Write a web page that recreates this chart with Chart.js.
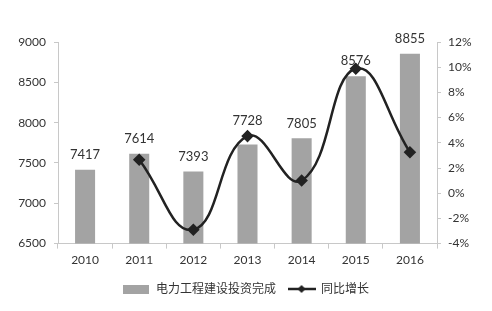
<!DOCTYPE html>
<html>
<head>
<meta charset="utf-8">
<script src="https://cdn.jsdelivr.net/npm/chart.js@4.4.1/dist/chart.umd.min.js"></script>
<style>
  html, body { margin: 0; padding: 0; background: #fff; }
  #wrap { width: 492px; height: 311px; position: relative; }
</style>
</head>
<body>
<div id="wrap"><canvas id="chart"></canvas></div>
<script>
const years = ['2010', '2011', '2012', '2013', '2014', '2015', '2016'];
const investment = [7417, 7614, 7393, 7728, 7805, 8576, 8855];
const growth = [null, 2.66, -2.90, 4.53, 1.00, 9.88, 3.25];
const leftTicks = [6500, 7000, 7500, 8000, 8500, 9000];
const rightTicks = [-4, -2, 0, 2, 4, 6, 8, 10, 12];

const barName = '电力工程建设投资完成';
const lineName = '同比增长';
const FONT = 'Lato, "Noto Sans CJK SC", sans-serif';

// legend symbols drawn on small canvases
function makeSwatch(w, h, draw) {
    const c = document.createElement('canvas');
    c.width = w; c.height = h;
    draw(c.getContext('2d'));
    return c;
}
const barSwatch = makeSwatch(26, 9, g => { g.fillStyle = '#a3a3a3'; g.fillRect(0, 0, 26, 9); });
const lineSwatch = makeSwatch(28, 10, g => {
    g.strokeStyle = '#222'; g.lineWidth = 2.5;
    g.beginPath(); g.moveTo(0, 5); g.lineTo(28, 5); g.stroke();
    g.fillStyle = '#222';
    g.beginPath(); g.moveTo(14, 1); g.lineTo(18, 5); g.lineTo(14, 9); g.lineTo(10, 5); g.closePath(); g.fill();
});

// value labels above bars (pushed above the marker when it sits just over the bar)
const barLabels = {
    id: 'barLabels',
    afterDatasetsDraw(chart) {
        const ctx = chart.ctx;
        const bars = chart.getDatasetMeta(1).data;
        const pts = chart.getDatasetMeta(0).data;
        ctx.save();
        ctx.font = '13px ' + FONT;
        ctx.fillStyle = '#333';
        ctx.textAlign = 'center';
        ctx.textBaseline = 'middle';
        bars.forEach((bar, i) => {
            let y = bar.y - 15;
            const p = pts[i];
            if (growth[i] !== null && p && p.y < bar.y && bar.y - p.y > 8) y = p.y - 15;
            ctx.fillText(String(investment[i]), bar.x, y);
        });
        ctx.restore();
    }
};

new Chart(document.getElementById('chart'), {
    data: {
        labels: years,
        datasets: [
            {
                type: 'line',
                label: lineName,
                data: growth,
                yAxisID: 'y1',
                borderColor: '#222',
                backgroundColor: '#222',
                borderWidth: 2.5,
                tension: 0.45,
                pointStyle: 'rectRot',
                pointRadius: 4.5,
                pointHoverRadius: 4.5,
                order: 0
            },
            {
                type: 'bar',
                label: barName,
                data: investment,
                yAxisID: 'y',
                backgroundColor: '#a3a3a3',
                categoryPercentage: 1,
                barPercentage: 0.37,
                order: 1
            }
        ]
    },
    options: {
        responsive: true,
        maintainAspectRatio: false,
        animation: false,
        layout: { padding: { top: 42, bottom: 6, left: 0, right: 0 } },
        plugins: {
            tooltip: { enabled: false },
            legend: {
                position: 'bottom',
                labels: {
                    usePointStyle: true,
                    pointStyleWidth: 27,
                    color: '#333',
                    font: { size: 12, family: FONT },
                    padding: 12,
                    generateLabels: () => [
                        { text: barName, pointStyle: barSwatch, datasetIndex: 1, fontColor: '#333' },
                        { text: lineName, pointStyle: lineSwatch, datasetIndex: 0, fontColor: '#333' }
                    ]
                }
            }
        },
        scales: {
            x: {
                offset: true,
                grid: { offset: true, drawOnChartArea: false, color: '#c8c8c8', tickLength: 5 },
                border: { color: '#c8c8c8' },
                ticks: { color: '#333', font: { size: 12, family: FONT }, padding: 4 }
            },
            y: {
                position: 'left',
                min: 6500, max: 9000,
                afterBuildTicks: s => { s.ticks = leftTicks.map(v => ({ value: v })); },
                afterFit: s => { s.width = 58; },
                grid: { drawOnChartArea: false, color: '#c8c8c8', tickLength: 4 },
                border: { color: '#c8c8c8' },
                ticks: { color: '#333', font: { size: 12, family: FONT }, padding: 8, callback: v => String(v) }
            },
            y1: {
                position: 'right',
                min: -4, max: 12,
                afterBuildTicks: s => { s.ticks = rightTicks.map(v => ({ value: v })); },
                afterFit: s => { s.width = 55; },
                grid: { drawOnChartArea: false, color: '#c8c8c8', tickLength: 4 },
                border: { color: '#c8c8c8' },
                ticks: { color: '#333', font: { size: 12, family: FONT }, padding: 7, callback: v => v + '%' }
            }
        }
    },
    plugins: [barLabels]
});
</script>
</body>
</html>
